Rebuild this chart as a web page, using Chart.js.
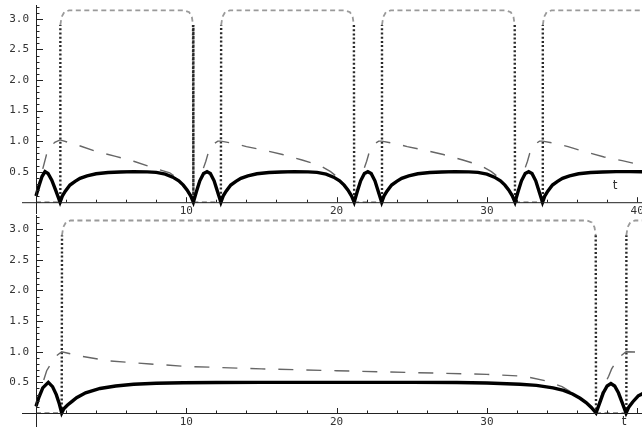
<!DOCTYPE html>
<html>
<head>
<meta charset="utf-8">
<script src="https://cdn.jsdelivr.net/npm/chart.js@4"></script>
<style>
  body { margin: 0; background: #fff; }
  canvas { display: block; }
</style>
</head>
<body>
<canvas id="topChart" width="642" height="214"></canvas>
<canvas id="bottomChart" width="642" height="215"></canvas>
<script>
// values, [t, value]
const topSolid = [[0,0.1],[0.2,0.27],[0.4,0.42],[0.6,0.5],[0.8,0.47],[1.05,0.36],[1.3,0.2],[1.6,0],
  [1.75,0.1],[1.95,0.18],[2.26,0.28],[2.6,0.34],[2.93,0.39],[3.4,0.43],[4.0,0.465],[4.8,0.485],[5.6,0.495],[6.5,0.5],[7.4,0.497],[8.0,0.488],[8.6,0.46],[9.1,0.41],[9.5,0.35],[9.8,0.28],[10.05,0.2],[10.3,0.1],[10.47,0],
  [10.67,0.17],[10.9,0.35],[11.15,0.47],[11.38,0.5],[11.6,0.47],[11.85,0.35],[12.08,0.17],[12.3,0],
  [12.45,0.1],[12.65,0.18],[12.96,0.28],[13.3,0.34],[13.63,0.39],[14.1,0.43],[14.7,0.465],[15.5,0.485],[16.3,0.495],[17.2,0.5],[18.1,0.497],[18.7,0.488],[19.3,0.46],[19.8,0.41],[20.2,0.35],[20.5,0.28],[20.75,0.2],[21.0,0.1],[21.17,0],
  [21.37,0.17],[21.6,0.35],[21.85,0.47],[22.08,0.5],[22.3,0.47],[22.55,0.35],[22.78,0.17],[23.0,0],
  [23.15,0.1],[23.35,0.18],[23.66,0.28],[24.0,0.34],[24.33,0.39],[24.8,0.43],[25.4,0.465],[26.2,0.485],[27.0,0.495],[27.9,0.5],[28.8,0.497],[29.4,0.488],[30.0,0.46],[30.5,0.41],[30.9,0.35],[31.2,0.28],[31.45,0.2],[31.7,0.1],[31.87,0],
  [32.07,0.17],[32.3,0.35],[32.55,0.47],[32.78,0.5],[33.0,0.47],[33.25,0.35],[33.48,0.17],[33.7,0],
  [33.85,0.1],[34.05,0.18],[34.36,0.28],[34.7,0.34],[35.03,0.39],[35.5,0.43],[36.1,0.465],[36.9,0.485],[37.7,0.495],[38.6,0.5],[39.5,0.5],[40.4,0.497]];

const topDashed = [[0,0.1],[0.35,0.45],[0.7,0.78],[0.93,0.9],[1.25,0.98],[1.6,1.02],[2.7,0.94],[4.0,0.83],[5.3,0.75],[6.5,0.67],[7.7,0.57],[8.9,0.48],[9.3,0.41],[9.6,0.34],[9.85,0.26],[10.1,0.17],[10.3,0.09],[10.47,0],
  [10.8,0.3],[11.1,0.53],[11.3,0.67],[11.45,0.8],[11.75,0.94],[12.1,1.0],[12.3,1.0],[13.4,0.95],[14.0,0.91],[15.2,0.85],[16.4,0.78],[17.7,0.69],[18.9,0.6],[19.6,0.5],[20.0,0.42],[20.3,0.34],[20.55,0.26],[20.8,0.17],[21.0,0.09],[21.17,0],
  [21.5,0.3],[21.8,0.53],[22.0,0.67],[22.15,0.8],[22.45,0.94],[22.8,1.0],[23.0,1.0],[24.1,0.95],[24.7,0.91],[25.9,0.85],[27.1,0.78],[28.4,0.69],[29.6,0.6],[30.3,0.5],[30.7,0.42],[31.0,0.34],[31.25,0.26],[31.5,0.17],[31.7,0.09],[31.87,0],
  [32.2,0.3],[32.5,0.53],[32.7,0.67],[32.85,0.8],[33.15,0.94],[33.5,1.0],[33.7,1.0],[34.8,0.95],[35.4,0.91],[36.6,0.82],[37.8,0.74],[39.0,0.68],[40.4,0.6]];

const topPhase = [[0,0],[1.6,0],[1.62,2.9],[1.7,3.03],[1.88,3.11],[2.2,3.14],
  [9.87,3.14],[10.19,3.11],[10.37,3.03],[10.45,2.9],[10.47,0],
  [12.3,0],[12.32,2.9],[12.4,3.03],[12.58,3.11],[12.9,3.14],
  [20.57,3.14],[20.89,3.11],[21.07,3.03],[21.15,2.9],[21.17,0],
  [23.0,0],[23.02,2.9],[23.1,3.03],[23.28,3.11],[23.6,3.14],
  [31.27,3.14],[31.59,3.11],[31.77,3.03],[31.85,2.9],[31.87,0],
  [33.7,0],[33.72,2.9],[33.8,3.03],[33.98,3.11],[34.3,3.14],[40.4,3.14]];

const bottomSolid = [[0,0.11],[0.2,0.26],[0.45,0.41],[0.82,0.5],[1.1,0.43],[1.35,0.3],[1.55,0.15],[1.71,0],
  [1.85,0.07],[2.1,0.13],[2.4,0.19],[2.7,0.25],[3.3,0.33],[4.26,0.4],[5.3,0.44],[6.5,0.47],[8,0.485],[9.8,0.493],[12,0.498],[15,0.5],[20,0.5],[25,0.5],[28,0.498],[30,0.49],[32.2,0.47],[33.3,0.45],[34.4,0.41],[35.1,0.37],[35.7,0.31],[36.2,0.24],[36.6,0.17],[36.95,0.09],[37.26,0],
  [37.5,0.16],[37.75,0.33],[38.0,0.44],[38.25,0.48],[38.5,0.44],[38.75,0.33],[39.0,0.17],[39.26,0],
  [39.45,0.1],[39.7,0.18],[40.07,0.28],[40.4,0.32]];

const bottomDashed = [[0,0.1],[0.4,0.45],[0.71,0.69],[1.04,0.82],[1.35,0.93],[1.71,1.0],[2.9,0.93],[4.9,0.85],[7.6,0.8],[10,0.76],[15,0.72],[20,0.69],[25,0.66],[30,0.63],[32.5,0.6],[34,0.52],[35,0.43],[35.6,0.34],[36.1,0.25],[36.5,0.18],[36.9,0.09],[37.26,0],
  [37.6,0.28],[37.9,0.5],[38.1,0.6],[38.3,0.72],[38.6,0.84],[38.9,0.93],[39.26,1.0],[40.4,0.99]];

const bottomPhase = [[0,0],[1.71,0],[1.73,2.9],[1.81,3.03],[1.99,3.11],[2.3,3.14],
  [36.66,3.14],[36.98,3.11],[37.16,3.03],[37.24,2.9],[37.26,0],
  [39.26,0],[39.28,2.9],[39.36,3.03],[39.54,3.11],[39.86,3.14],[40.4,3.14]];

const yTicks = [0.5, 1.0, 1.5, 2.0, 2.5, 3.0];
const yTickLabels = ['0.5', '1.0', '1.5', '2.0', '2.5', '3.0'];
const topXTicks = [10, 20, 30, 40];
const topXTickLabels = ['10', '20', '30', '40'];
const bottomXTicks = [10, 20, 30];
const bottomXTickLabels = ['10', '20', '30'];

const toXY = arr => arr.map(p => ({ x: p[0], y: p[1] }));

// steep parts of the phase curve are dark dots, flat parts light dashes
const isSteep = c => Math.abs(c.p1.parsed.y - c.p0.parsed.y) / Math.max(1e-6, Math.abs(c.p1.parsed.x - c.p0.parsed.x)) > 20;
const phaseSegment = {
  borderColor: c => isSteep(c) ? '#2a2a2a' : '#9a9a9a',
  borderWidth: c => isSteep(c) ? 2.4 : 1.8,
  borderDash: c => isSteep(c) ? [2, 2.2] : [5, 3.5],
};

function axesPlugin(cfg) {
  return {
    id: 'mmaAxes',
    afterDatasetsDraw(chart) {
      const ctx = chart.ctx, xs = chart.scales.x, ys = chart.scales.y;
      const x0 = xs.getPixelForValue(0), y0 = ys.getPixelForValue(0);
      ctx.save();
      ctx.strokeStyle = '#222';
      ctx.lineWidth = 1;
      ctx.beginPath();
      ctx.moveTo(22, y0 + 0.5); ctx.lineTo(642, y0 + 0.5);
      ctx.moveTo(x0 + 0.5, cfg.yTop); ctx.lineTo(x0 + 0.5, cfg.yBottom);
      // x ticks
      for (let v = 2; v <= 40; v += 2) {
        const px = Math.round(xs.getPixelForValue(v)) + 0.5;
        const len = v % 10 === 0 ? 5 : 2.5;
        ctx.moveTo(px, y0); ctx.lineTo(px, y0 - len);
      }
      // y ticks
      for (let i = 1; i <= 32; i++) {
        const v = i / 10;
        const py = Math.round(ys.getPixelForValue(v)) + 0.5;
        const len = i % 5 === 0 ? 7 : 3.5;
        ctx.moveTo(x0, py); ctx.lineTo(x0 + len, py);
      }
      ctx.stroke();

      ctx.fillStyle = '#333';
      ctx.font = '11px "DejaVu Sans Mono"';
      ctx.textBaseline = 'middle';
      ctx.textAlign = 'right';
      yTicks.forEach((v, i) => ctx.fillText(yTickLabels[i], x0 - 7, ys.getPixelForValue(v)));
      ctx.textAlign = 'center';
      cfg.xTicks.forEach((v, i) => ctx.fillText(cfg.xLabels[i], xs.getPixelForValue(v), y0 + cfg.labelGap));
      ctx.font = '12px "DejaVu Sans"';
      ctx.fillText('t', cfg.tPos[0], cfg.tPos[1]);
      ctx.restore();
    }
  };
}

function makeChart(id, solid, dashed, phase, yMin, yMax, cfg) {
  new Chart(document.getElementById(id), {
    type: 'scatter',
    data: {
      datasets: [
        { data: toXY(solid), showLine: true, borderColor: '#000', borderWidth: 3.4, pointRadius: 0, order: 0 },
        { data: toXY(dashed), showLine: true, borderColor: '#666', borderWidth: 1.4, borderDash: [15, 13], pointRadius: 0, order: 1 },
        { data: toXY(phase), showLine: true, borderColor: '#9a9a9a', borderWidth: 1.8, pointRadius: 0, segment: phaseSegment, order: 2 },
      ]
    },
    options: {
      responsive: false,
      animation: false,
      events: [],
      layout: { padding: 0 },
      plugins: { legend: { display: false }, tooltip: { enabled: false } },
      scales: {
        x: { type: 'linear', display: false, min: -36 / 15.03, max: 606 / 15.03 },
        y: { type: 'linear', display: false, min: yMin, max: yMax },
      }
    },
    plugins: [axesPlugin(cfg)]
  });
}

makeChart('topChart', topSolid, topDashed, topPhase, -11.8 / 61.1, 202.2 / 61.1,
  { yTop: 5, yBottom: 214, xTicks: topXTicks, xLabels: topXTickLabels, labelGap: 9, tPos: [615, 186] });
makeChart('bottomChart', bottomSolid, bottomDashed, bottomPhase, -16 / 61.3, 199 / 61.3,
  { yTop: 1, yBottom: 213, xTicks: bottomXTicks, xLabels: bottomXTickLabels, labelGap: 9, tPos: [624, 208] });
</script>
</body>
</html>
